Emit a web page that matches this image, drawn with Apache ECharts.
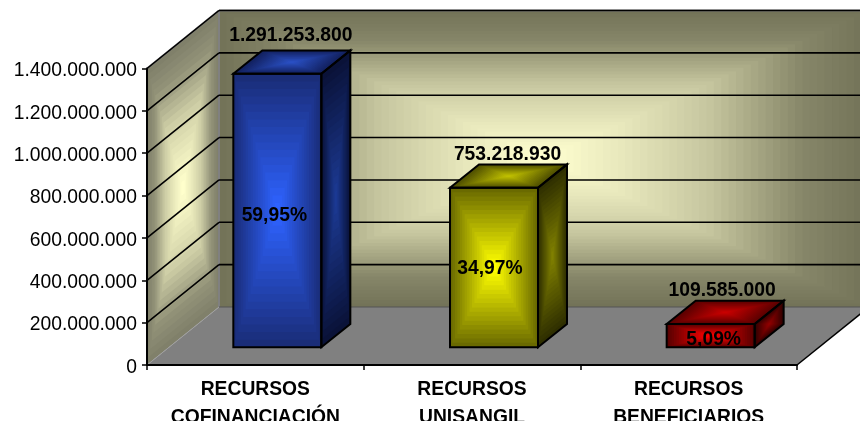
<!DOCTYPE html>
<html><head><meta charset="utf-8">
<style>html,body{margin:0;padding:0;background:#fff}#c{width:860px;height:421px}</style>
<script src="https://cdn.jsdelivr.net/npm/echarts@6/dist/echarts.min.js"></script>
</head><body><div id="c"></div>
<script>
const categories = ['RECURSOS\nCOFINANCIACIÓN', 'RECURSOS\nUNISANGIL', 'RECURSOS\nBENEFICIARIOS'];
const montos = [1291253800, 753218930, 109585000];
const porcentajes = ['59,95%', '34,97%', '5,09%'];
const marcasEje = [0, 200000000, 400000000, 600000000, 800000000, 1000000000, 1200000000, 1400000000];

// estilo
const DX = 72, DY = -58, FRONT = 22 / 72, BACK = 51 / 72, BAR_W = 88;
const FONT = '"Liberation Sans", Arial, sans-serif';
const FS = 19.3;
const paletas = [
  {front: ['#1a2d78', '#2e62ff'], top: ['#12205e', '#2a50c4'], side: ['#0a1238', '#1c3a94']},
  {front: ['#6a6a00', '#ffff00'], top: ['#4e4e00', '#c0c000'], side: ['#2e2e00', '#808000']},
  {front: ['#5a0000', '#ff0000'], top: ['#5a0000', '#c80000'], side: ['#300000', '#900000']}
];
const labelOffset = [[-1, -15], [-1, -10], [-3, -10]];
const pctOffset = [[-3, 5], [-4, 1], [3, 4]];
const curvaPared = [[0, 0], [0.2, 0.14], [0.5, 0.6], [0.75, 0.82], [1, 1]];

function hex(c) { return [1, 3, 5].map(i => parseInt(c.substr(i, 2), 16)); }
function mix(a, b, t) {
  const A = hex(a), B = hex(b);
  return 'rgb(' + A.map((v, i) => Math.round(v + (B[i] - v) * t)).join(',') + ')';
}
function ramp(t, curve) {
  if (!curve) return t;
  for (let i = 1; i < curve.length; i++) {
    if (t <= curve[i][0]) {
      const a = curve[i - 1], b = curve[i];
      return a[1] + (b[1] - a[1]) * (t - a[0]) / (b[0] - a[0]);
    }
  }
  return 1;
}
function face(pts, edge, center, steps, curve) {
  const cx = pts.reduce((s, p) => s + p[0], 0) / pts.length;
  const cy = pts.reduce((s, p) => s + p[1], 0) / pts.length;
  const out = [];
  for (let i = 0; i < steps; i++) {
    const k = 1 - i / steps;
    const t = ramp(i / (steps - 1), curve);
    out.push({type: 'polygon', silent: true,
      shape: {points: pts.map(p => [cx + (p[0] - cx) * k, cy + (p[1] - cy) * k])},
      style: {fill: mix(edge, center, t)}});
  }
  return out;
}
function outline(pts, color, w) {
  return {type: 'polygon', silent: true, shape: {points: pts},
    style: {fill: 'none', stroke: color, lineWidth: w, lineJoin: 'miter'}};
}
function line(a, b, color, w) {
  return {type: 'line', silent: true, shape: {x1: a[0], y1: a[1], x2: b[0], y2: b[1]},
    style: {stroke: color, lineWidth: w}};
}
function plotCorners(api) {
  const band = api.size([1, 0])[0];
  const x0 = api.coord([0, 0])[0] - band / 2;
  const x1 = api.coord([categories.length - 1, 0])[0] + band / 2;
  const y0 = api.coord([0, 0])[1];
  const y1 = api.coord([0, marcasEje[marcasEje.length - 1]])[1];
  return {x0, x1, y0, y1};
}
function renderWalls(params, api) {
  const {x0, x1, y0, y1} = plotCorners(api);
  const side = [[x0, y1], [x0 + DX, y1 + DY], [x0 + DX, y0 + DY], [x0, y0]];
  const back = [[x0 + DX, y1 + DY], [x1 + DX, y1 + DY], [x1 + DX, y0 + DY], [x0 + DX, y0 + DY]];
  const floor = [[x0, y0], [x1, y0], [x1 + DX, y0 + DY], [x0 + DX, y0 + DY]];
  const children = []
    .concat(face(side, '#80806a', '#ffffcc', 22, curvaPared))
    .concat(face(back, '#737358', '#ffffd0', 44, curvaPared))
    .concat([{type: 'polygon', silent: true, shape: {points: floor}, style: {fill: '#808080'}}]);
  children.push(line([x0, y1], [x0 + DX, y1 + DY], '#808080', 2));
  children.push(line([x0 + DX, y1 + DY], [x1 + DX, y1 + DY], '#808080', 2));
  children.push(line([x0 + DX, y1 + DY], [x0 + DX, y0 + DY], '#808080', 2));
  children.push(line([x0, y0], [x0 + DX, y0 + DY], '#a0a0a0', 1));
  children.push(line([x0 + DX, y0 + DY], [x1 + DX, y0 + DY], '#555555', 1));
  children.push(line([x1, y0], [x1 + DX, y0 + DY], '#000000', 1.5));
  return {type: 'group', children};
}
function renderGrid(params, api) {
  const {x0, x1} = plotCorners(api);
  const y = api.coord([0, api.value(1)])[1];
  const kids = [];
  if (api.value(1) > 0) {
    kids.push(line([x0, y], [x0 + DX, y + DY], '#000000', 1.6));
    kids.push(line([x0 + DX, y + DY], [x1 + DX, y + DY], '#000000', 1.6));
  }
  return {type: 'group', children: kids};
}
function renderBar(params, api) {
  const i = api.value(0);
  const p = api.coord([i, api.value(1)]);
  const base = api.coord([i, 0]);
  const pal = paletas[i];
  const fx = DX * FRONT, fy = DY * FRONT, bx = DX * BACK, by = DY * BACK;
  const L = p[0] - BAR_W / 2 + fx, R = p[0] + BAR_W / 2 + fx;
  const T = p[1] + fy, B = base[1] + fy;
  const dx = bx - fx, dy = by - fy;
  const fr = [[L, T], [R, T], [R, B], [L, B]];
  const tp = [[L, T], [R, T], [R + dx, T + dy], [L + dx, T + dy]];
  const sd = [[R, T], [R + dx, T + dy], [R + dx, B + dy], [R, B]];
  const steps = 18;
  const children = []
    .concat(face(sd, pal.side[0], pal.side[1], steps))
    .concat(face(tp, pal.top[0], pal.top[1], steps))
    .concat(face(fr, pal.front[0], pal.front[1], steps));
  children.push(outline(sd, '#000', 2), outline(tp, '#000', 2), outline(fr, '#000', 2));
  const lo = labelOffset[i], po = pctOffset[i];
  const num = montos[i].toString().replace(/\B(?=(\d{3})+$)/g, '.');
  children.push({type: 'text', silent: true, style: {
    text: num, x: (L + R) / 2 + dx / 2 + lo[0], y: T + dy + lo[1],
    fill: '#000', font: 'bold ' + FS + 'px ' + FONT, align: 'center', verticalAlign: 'middle'}});
  children.push({type: 'text', silent: true, style: {
    text: porcentajes[i], x: (L + R) / 2 + po[0], y: (T + B) / 2 + po[1],
    fill: '#000', font: 'bold ' + FS + 'px ' + FONT, align: 'center', verticalAlign: 'middle'}});
  return {type: 'group', children};
}

const chart = echarts.init(document.getElementById('c'), null, {renderer: 'canvas'});
chart.setOption({
  animation: false,
  backgroundColor: '#fff',
  grid: {left: 147, right: 63, top: 68.5, bottom: 56, containLabel: false, outerBoundsMode: 'none'},
  xAxis: {
    type: 'category', data: categories, z: 3,
    axisLine: {show: true, lineStyle: {color: '#000', width: 2}},
    axisTick: {show: true, alignWithLabel: false, length: 5, lineStyle: {color: '#000', width: 1.5}},
    axisLabel: {color: '#000', fontFamily: FONT, fontWeight: 'bold', fontSize: FS, lineHeight: 28, margin: 11, interval: 0, hideOverlap: false},
    splitLine: {show: false}
  },
  yAxis: {
    type: 'value', min: 0, max: 1400000000, interval: 200000000, z: 3,
    axisLine: {show: true, lineStyle: {color: '#000', width: 2}},
    axisTick: {show: true, length: 5, lineStyle: {color: '#000', width: 1.5}},
    axisLabel: {color: '#000', fontFamily: FONT, fontSize: FS, margin: 10, verticalAlign: 'top', lineHeight: 5,
      formatter: v => v.toString().replace(/\B(?=(\d{3})+$)/g, '.')},
    splitLine: {show: false}
  },
  series: [
    {type: 'custom', name: 'paredes', z: 1, silent: true, renderItem: renderWalls, data: [[0, 0]]},
    {type: 'custom', name: 'rejilla', z: 2, silent: true, renderItem: renderGrid, data: marcasEje.map(v => [0, v])},
    {type: 'custom', name: 'recursos', z: 4, silent: true, renderItem: renderBar, data: montos.map((v, i) => [i, v])}
  ]
});
</script></body></html>
